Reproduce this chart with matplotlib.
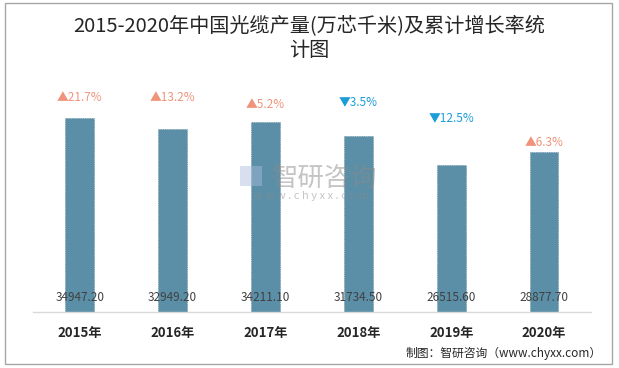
import matplotlib
matplotlib.use('Agg')
import matplotlib.pyplot as plt
from matplotlib.patches import Rectangle

plt.rcParams['font.family'] = ['Noto Sans CJK SC', 'DejaVu Sans']

# data
years = ['2015年', '2016年', '2017年', '2018年', '2019年', '2020年']
output = [34947.20, 32949.20, 34211.10, 31734.50, 26515.60, 28877.70]
growth = [21.7, 13.2, 5.2, -3.5, -12.5, 6.3]

# style
bar_color = '#5B8FA7'
up_color = '#F0937A'
down_color = '#1B9DD9'
label_offset = [15, 23, 13, 25, 34, 7]  # points above bar top

fig = plt.figure(figsize=(6.19, 3.68), dpi=100)
ax = fig.add_axes([0.054, 0.152, 0.9, 0.603])

x = list(range(len(years)))
ax.bar(x, output, width=0.31, color=bar_color, edgecolor='#4F7F96',
       linewidth=0.5, linestyle=':', zorder=2)
ax.set_xlim(-0.5, 5.5)
ax.set_ylim(0, 40000)

for s in ['top', 'right', 'left']:
  ax.spines[s].set_visible(False)
ax.spines['bottom'].set_color('#D9D9D9')
ax.spines['bottom'].set_linewidth(1)
ax.set_yticks([])
ax.set_xticks(x)
ax.set_xticklabels(years, fontsize=9.5, fontweight='bold', color='#262626')
ax.tick_params(axis='x', length=0, pad=10)

# value labels near bottom of the bars
for i, v in enumerate(output):
  ax.text(i, 2700, '%.2f' % v, ha='center', va='center', fontsize=8.5,
          color='#404040', zorder=3)

# growth rate labels
for i, g in enumerate(growth):
  if g >= 0:
    s, c = '▲%.1f%%' % g, up_color
  else:
    s, c = '▼%.1f%%' % abs(g), down_color
  ax.annotate(s, (i, output[i]), xytext=(0, label_offset[i]),
              textcoords='offset points', ha='center', va='center',
              fontsize=8.5, color=c)

# title
fig.text(0.5, 0.93, '2015-2020年中国光缆产量(万芯千米)及累计增长率统', ha='center',
         va='center', fontsize=14.5, color='#262626')
fig.text(0.5, 0.862, '计图', ha='center', va='center', fontsize=14.5,
         color='#262626')

# watermark
fig.text(0.525, 0.515, '智研咨询', ha='center', va='center', fontsize=19,
         color='#8A8A8A', alpha=0.5, zorder=5)
fig.text(0.503, 0.467, 'w w w . c h y x x . c o m', ha='center', va='center',
         fontsize=8, color='#8A8A8A', alpha=0.5, zorder=5)
fig.patches.append(Rectangle((0.388, 0.495), 0.035, 0.054, transform=fig.transFigure,
                             facecolor='#A9BCDD', alpha=0.45, edgecolor='none', zorder=5))

# source
fig.text(0.972, 0.04, '制图：智研咨询（www.chyxx.com）', ha='right', va='center',
         fontsize=8.5, color='#262626')

# frame
fig.patches.append(Rectangle((0.008, 0.012), 0.98, 0.98, transform=fig.transFigure,
                             facecolor='none', edgecolor='#A6A6A6', linewidth=1))

fig.savefig('out.png', dpi=100)
